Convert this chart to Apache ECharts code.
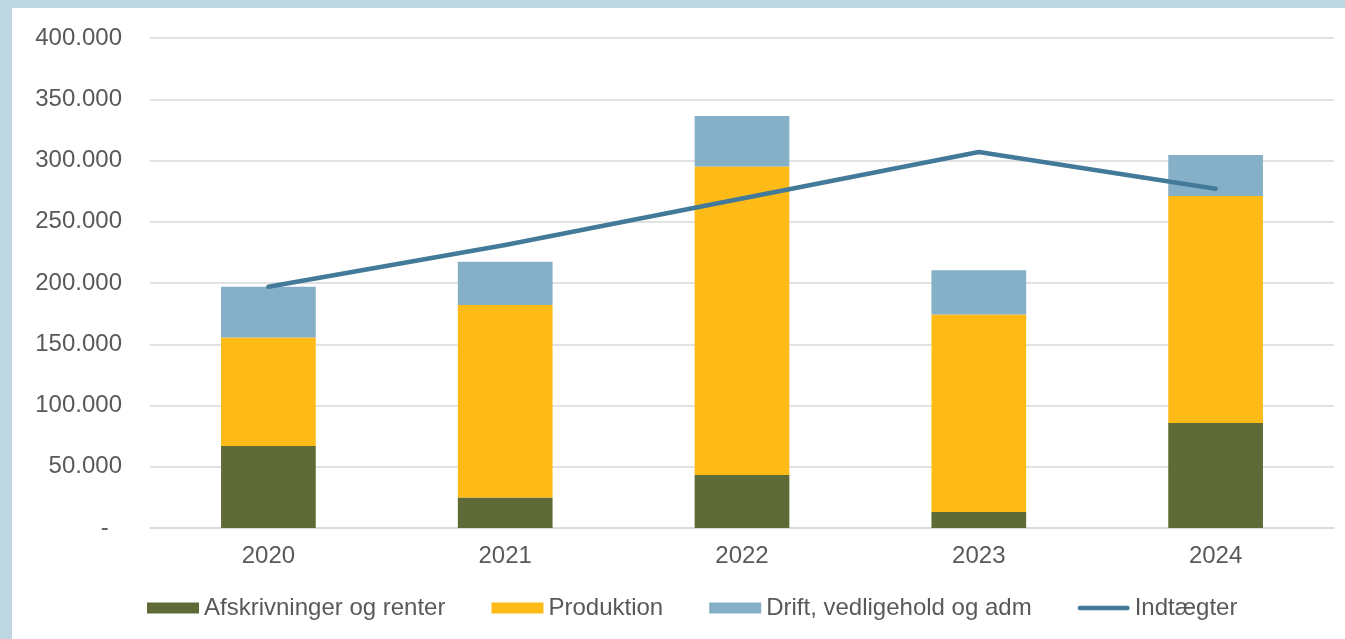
<!DOCTYPE html>
<html>
<head>
<meta charset="utf-8">
<script src="https://cdn.jsdelivr.net/npm/echarts@6/dist/echarts.min.js"></script>
<style>
  html, body { margin: 0; padding: 0; width: 1345px; height: 639px; background: #BDD6E2; overflow: hidden; }
  #chart { position: absolute; left: 12px; top: 8px; width: 1333px; height: 631px; background: #ffffff; }
</style>
</head>
<body>
<div id="chart"></div>
<script>
const categories = ['2020', '2021', '2022', '2023', '2024'];
const afskrivninger = [67000, 25000, 43300, 13000, 85800];
const produktion = [88600, 157000, 251900, 161200, 185200];
const drift = [41300, 35300, 41200, 36200, 33500];
const indtaegter = [197000, 231000, 269000, 307000, 277000];
const yTicks = [0, 50000, 100000, 150000, 200000, 250000, 300000, 350000, 400000];

const textColor = '#595959';
const font = 'Liberation Sans, Arial, sans-serif';

function fmt(v) {
  if (v === 0) return '-  ';
  return String(v).replace(/\B(?=(\d{3})+(?!\d))/g, '.');
}

const chart = echarts.init(document.getElementById('chart'), null, { renderer: 'canvas' });
chart.setOption({
  animation: false,
  textStyle: { fontFamily: font },
  grid: { left: 138, right: 11, top: 30, bottom: 111 },
  legend: {
    left: 130,
    top: 583,
    itemWidth: 52,
    itemHeight: 11,
    itemGap: 46,
    textStyle: { color: textColor, fontSize: 24, fontFamily: font },
    data: [
      { name: 'Afskrivninger og renter', icon: 'rect' },
      { name: 'Produktion', icon: 'rect' },
      { name: 'Drift, vedligehold og adm', icon: 'rect' },
      { name: 'Indtægter', icon: 'path://M2.5,0 L53.5,0 A2.5,2.5 0 0 1 53.5,5 L2.5,5 A2.5,2.5 0 0 1 2.5,0 Z' }
    ]
  },
  xAxis: {
    type: 'category',
    data: categories,
    axisLine: { show: true, lineStyle: { color: '#D9D9D9', width: 1.5 } },
    axisTick: { show: false },
    axisLabel: { color: textColor, fontSize: 24, margin: 16, fontFamily: font }
  },
  yAxis: {
    type: 'value',
    min: yTicks[0],
    max: yTicks[yTicks.length - 1],
    interval: yTicks[1] - yTicks[0],
    axisLine: { show: false },
    axisTick: { show: false },
    splitLine: { lineStyle: { color: '#D9D9D9', width: 1.5 } },
    axisLabel: { color: textColor, fontSize: 24, margin: 28, fontFamily: font, formatter: fmt, verticalAlign: 'middle', padding: [3, 0, 0, 0] }
  },
  series: [
    {
      name: 'Afskrivninger og renter', type: 'bar', stack: 'total', barWidth: '40%',
      itemStyle: { color: '#5E6B37' }, data: afskrivninger
    },
    {
      name: 'Produktion', type: 'bar', stack: 'total', barWidth: '40%',
      itemStyle: { color: '#FEBA17' }, data: produktion
    },
    {
      name: 'Drift, vedligehold og adm', type: 'bar', stack: 'total', barWidth: '40%',
      itemStyle: { color: '#86B0C8' }, data: drift
    },
    {
      name: 'Indtægter', type: 'line', showSymbol: false, symbol: 'none',
      lineStyle: { color: '#437A99', width: 4.5, cap: 'round', join: 'round' },
      itemStyle: { color: '#437A99' },
      data: indtaegter, z: 5
    }
  ]
});
</script>
</body>
</html>
